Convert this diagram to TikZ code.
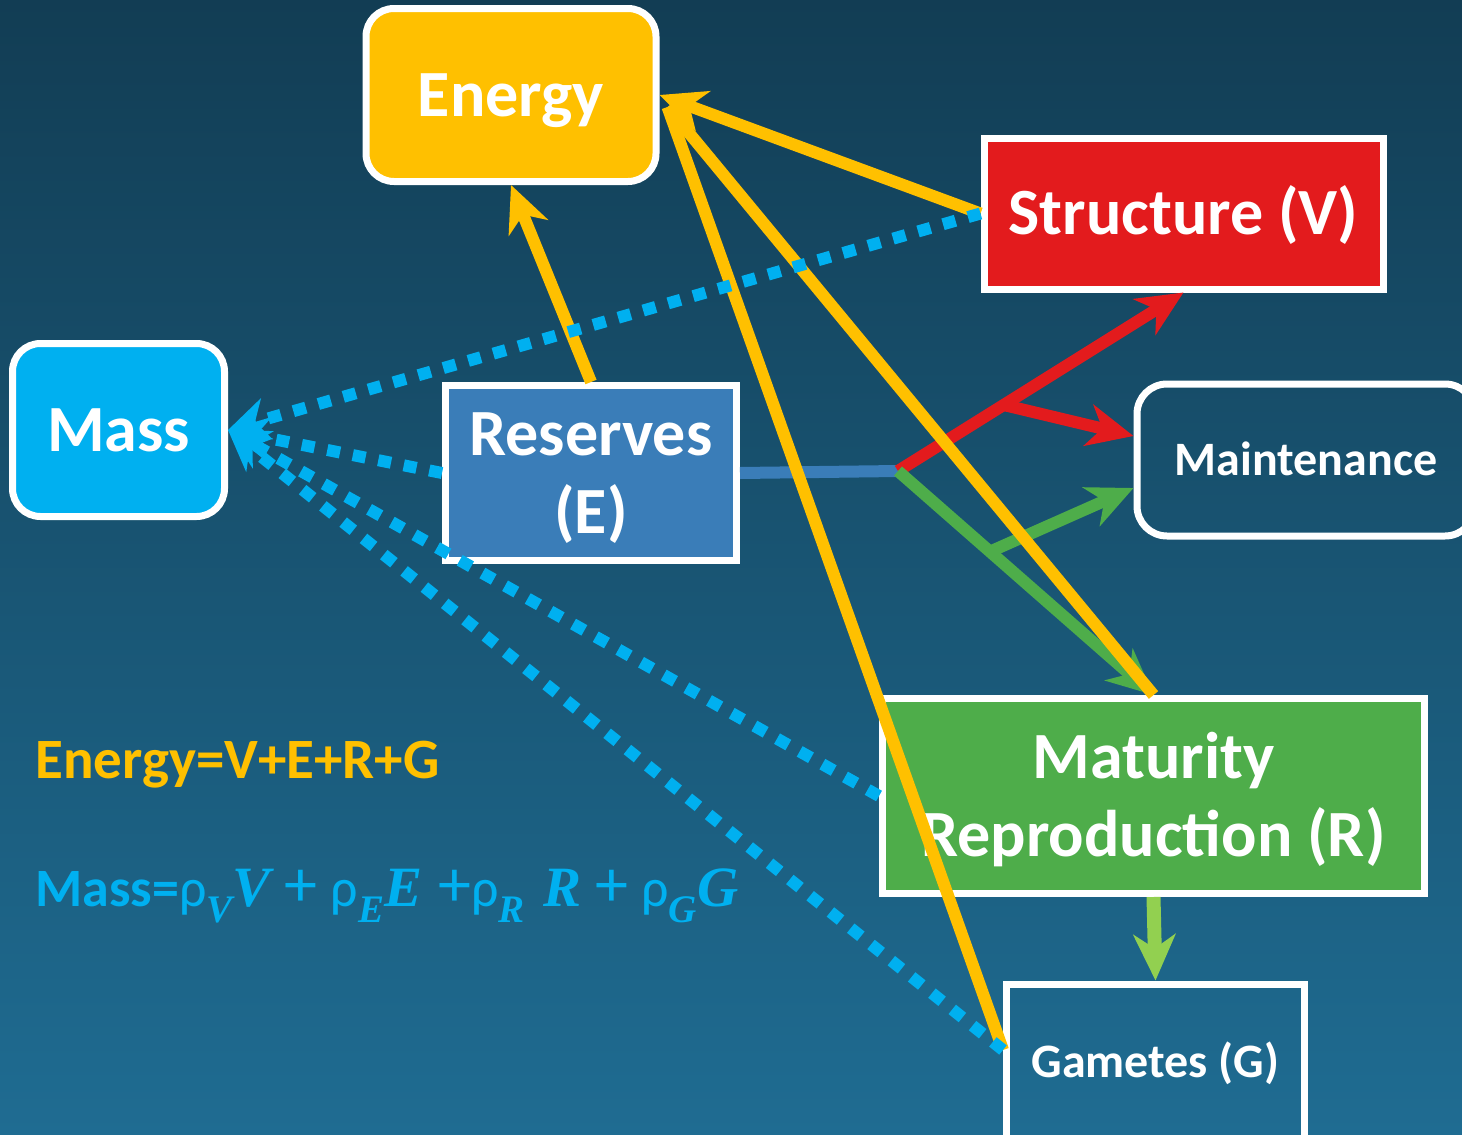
\documentclass[tikz,border=0pt]{standalone}
\usepackage{fontspec}
\setmainfont{Carlito}
\newfontfamily\serifmath{Liberation Serif}
\usetikzlibrary{arrows.meta,calc}
\definecolor{cyel}{HTML}{FFC000}
\definecolor{cred}{HTML}{E31B1D}
\definecolor{cmass}{HTML}{00B0F0}
\definecolor{cres}{HTML}{3A7DB8}
\definecolor{cgreen}{HTML}{4EAD4A}
\definecolor{clgreen}{HTML}{92D050}
\definecolor{bgtop}{HTML}{123D54}
\definecolor{bgbot}{HTML}{1F6C92}
\newcommand\mybi[1]{{\fontsize{28.5}{32}\selectfont\serifmath\bfseries\itshape #1}}
\newcommand\mysub[1]{\raisebox{-0.3em}{\fontsize{19.5}{20}\selectfont\serifmath\bfseries\itshape #1}}
\newcommand\myplusglyph{{\fontsize{33}{33}\selectfont +}}
\newcommand\myplus{\hspace{0.25em}\myplusglyph\hspace{0.25em}}
\begin{document}
\begin{tikzpicture}[x=0.5pt,y=-0.5pt,
  box/.style={draw=white,line width=3.5pt,inner sep=0pt,align=center,text=white,
    font=\bfseries\fontsize{33}{39}\selectfont,text height=21.25pt,text depth=0pt},
  rbox/.style={box,rounded corners=14pt},
  twol/.style={text height=60.25pt,text depth=0pt},
  small/.style={font=\bfseries\fontsize{24}{29}\selectfont,text height=15.5pt},
  conn/.style={line width=6pt},
  tipA/.style={-{Stealth[length=23pt,width=21pt,inset=7pt]}},
  tipD/.style={-{Stealth[length=20pt,width=21pt,inset=6pt]}},
  dots/.style={draw=cmass,line width=6pt,dash pattern=on 6.5pt off 6.5pt},
  lbl/.style={anchor=base west,inner sep=0pt}
]
\useasboundingbox (0,0) rectangle (1462,1135);
\clip (0,0) rectangle (1462,1135);
\shade[top color=bgtop,bottom color=bgbot] (0,0) rectangle (1462,1135);

\node[rbox,fill=cyel,minimum width=145pt,minimum height=86.5pt] (Energy) at (511,95) {Energy};
\node[box,fill=cred,minimum width=199.5pt,minimum height=75.5pt] (Structure) at (1183.5,213.5) {Structure (V)};
\node[rbox,fill=cmass,minimum width=106pt,minimum height=86.5pt] (Mass) at (118.5,430) {Mass};
\node[box,twol,fill=cres,minimum width=145.5pt,minimum height=87.5pt] (Reserves) at (591,473) {Reserves\\(E)};
\node[rbox,small,rounded corners=15pt,minimum width=169pt,minimum height=76pt] (Maint) at (1306,460) {Maintenance};
\node[box,twol,fill=cgreen,minimum width=271pt,minimum height=97.5pt] (Maturity) at (1153.5,796) {Maturity\\Reproduction (R)};
\node[box,small,minimum width=149pt,minimum height=78pt] (Gametes) at (1155.5,1062) {Gametes (G)};

\coordinate (B) at (898,471);
\coordinate (Ein) at ($(Energy.east)+(8,12)$);
\coordinate (Gy) at ($(Gametes.west)+(0,-12)$);

\draw[cres,conn] (Reserves.east) -- (B);
\draw[cred,conn,tipA] (B) -- (Structure.south);
\draw[cred,conn,tipA] ($(B)!0.37!(Structure.south)$) -- ($(Maint.west)+(0,-24)$);
\draw[cgreen,conn,tipA] (B) -- (Maturity.north);
\draw[cgreen,conn,tipA] ($(B)!0.36!(Maturity.north)$) -- ($(Maint.west)+(0,28)$);
\draw[clgreen,line width=7pt,tipA] (Maturity.south) -- (Gametes.north);

\draw[cyel,conn] (Maturity.north) -- (Ein);
\draw[cyel,conn] (Gy) -- (Ein);
\draw[cyel,conn,tipA] (Structure.west) -- (Energy.east);
\draw[cyel,conn,tipA] (Reserves.north) -- (Energy.south);

\draw[dots,tipD] (Structure.west) -- (Mass.east);
\draw[dots,tipD] (Reserves.west) -- (Mass.east);
\draw[dots,tipD] (Maturity.west) -- (Mass.east);
\draw[dots,tipD] (Gy) -- (Mass.east);

\node[lbl,text=cyel,font=\bfseries\fontsize{28.5}{34}\selectfont] (eqE) at (35,778) {Energy=V+E+R+G};
\node[lbl,text=cmass,font=\fontsize{27}{34}\selectfont] (eqM) at (35,906) {\textbf{Mass=}ρ\mysub{V}\mybi{V}\myplus ρ\mysub{E}\mybi{E}\hspace{0.3em}\myplusglyph ρ\mysub{R}\hspace{0.35em}\mybi{R}\myplus ρ\mysub{G}\mybi{G}};
\end{tikzpicture}
\end{document}
